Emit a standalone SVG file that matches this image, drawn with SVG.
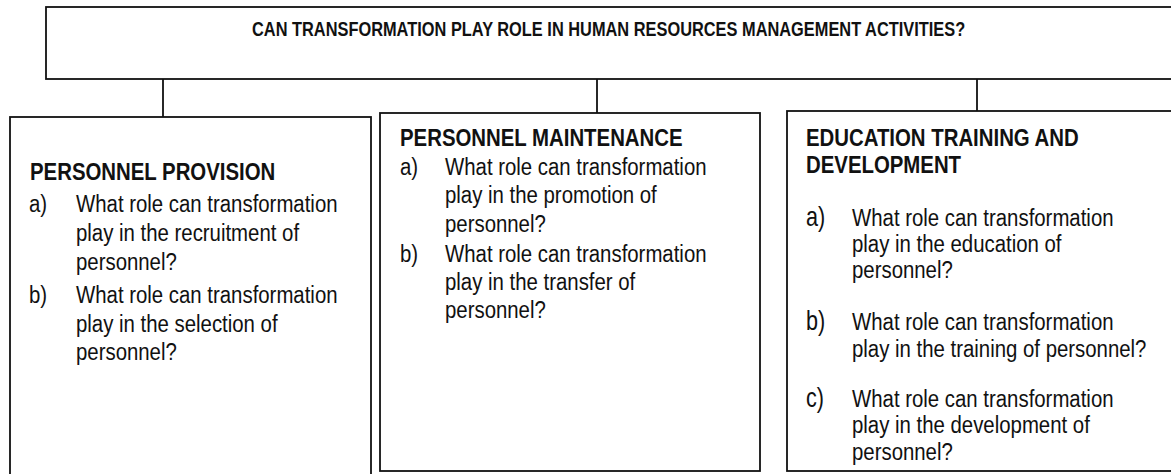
<svg xmlns="http://www.w3.org/2000/svg" width="1171" height="474" viewBox="0 0 1171 474">
  <style>
    .box { fill: #ffffff; stroke: #111111; stroke-width: 1.8; }
    .link { stroke: #111111; stroke-width: 1.8; fill: none; }
    .txt { font-family: "Liberation Sans", Arial, sans-serif; font-size: 23.3px; fill: #111111; }
    .hd { font-weight: bold; }
    .ttl { font-family: "Liberation Sans", Arial, sans-serif; font-size: 19.5px; font-weight: bold; fill: #111111; }
    .lbl { font-family: "Liberation Sans", Arial, sans-serif; font-size: 27px; fill: #111111; }
  </style>

  <rect x="0" y="0" width="1171" height="474" fill="#ffffff"/>

  <!-- connectors from the question box down to the three areas -->
  <g id="connectors">
    <line class="link" x1="163" y1="79" x2="163" y2="117"/>
    <line class="link" x1="597" y1="79" x2="597" y2="113"/>
    <line class="link" x1="977" y1="79" x2="977" y2="111"/>
  </g>

  <g id="question">
    <rect class="box" x="46" y="7" width="1150" height="72"/>
    <text class="ttl" transform="translate(252,36) scale(0.84,1)">CAN TRANSFORMATION PLAY ROLE IN HUMAN RESOURCES MANAGEMENT ACTIVITIES?</text>
  </g>

  <g id="provision">
    <rect class="box" x="10" y="117" width="361" height="380"/>
    <text class="txt hd" transform="translate(30,0) scale(0.875,1)"><tspan x="0" y="180">PERSONNEL PROVISION</tspan></text>
    <text class="txt" transform="translate(29,0) scale(0.875,1)"><tspan x="0" y="212">a)</tspan><tspan x="0" y="303.5">b)</tspan></text>
    <text class="txt" transform="translate(76,0) scale(0.875,1)">
      <tspan x="0" y="212">What role can transformation</tspan>
      <tspan x="0" y="241">play in the recruitment of</tspan>
      <tspan x="0" y="270">personnel?</tspan>
      <tspan x="0" y="303.5">What role can transformation</tspan>
      <tspan x="0" y="332">play in the selection of</tspan>
      <tspan x="0" y="360.5">personnel?</tspan>
    </text>
  </g>

  <g id="maintenance">
    <rect class="box" x="380" y="113" width="380" height="358"/>
    <text class="txt hd" transform="translate(400,0) scale(0.875,1)"><tspan x="0" y="146">PERSONNEL MAINTENANCE</tspan></text>
    <text class="txt" transform="translate(400,0) scale(0.875,1)"><tspan x="0" y="175">a)</tspan><tspan x="0" y="262.5">b)</tspan></text>
    <text class="txt" transform="translate(445,0) scale(0.875,1)">
      <tspan x="0" y="175">What role can transformation</tspan>
      <tspan x="0" y="203.5">play in the promotion of</tspan>
      <tspan x="0" y="232">personnel?</tspan>
      <tspan x="0" y="262.5">What role can transformation</tspan>
      <tspan x="0" y="290.5">play in the transfer of</tspan>
      <tspan x="0" y="318">personnel?</tspan>
    </text>
  </g>

  <g id="education">
    <rect class="box" x="787" y="111" width="400" height="360"/>
    <text class="txt hd" transform="translate(806,0) scale(0.875,1)">
      <tspan x="0" y="146">EDUCATION TRAINING AND</tspan>
      <tspan x="0" y="172.7">DEVELOPMENT</tspan>
    </text>
    <text class="lbl" transform="translate(806,0) scale(0.8,1)"><tspan x="0" y="226">a)</tspan><tspan x="0" y="330">b)</tspan><tspan x="0" y="406.7">c)</tspan></text>
    <text class="txt" transform="translate(852,0) scale(0.875,1)">
      <tspan x="0" y="226">What role can transformation</tspan>
      <tspan x="0" y="252.5">play in the education of</tspan>
      <tspan x="0" y="278.5">personnel?</tspan>
      <tspan x="0" y="330">What role can transformation</tspan>
      <tspan x="0" y="357.5">play in the training of personnel?</tspan>
      <tspan x="0" y="406.7">What role can transformation</tspan>
      <tspan x="0" y="433">play in the development of</tspan>
      <tspan x="0" y="460">personnel?</tspan>
    </text>
  </g>
</svg>
